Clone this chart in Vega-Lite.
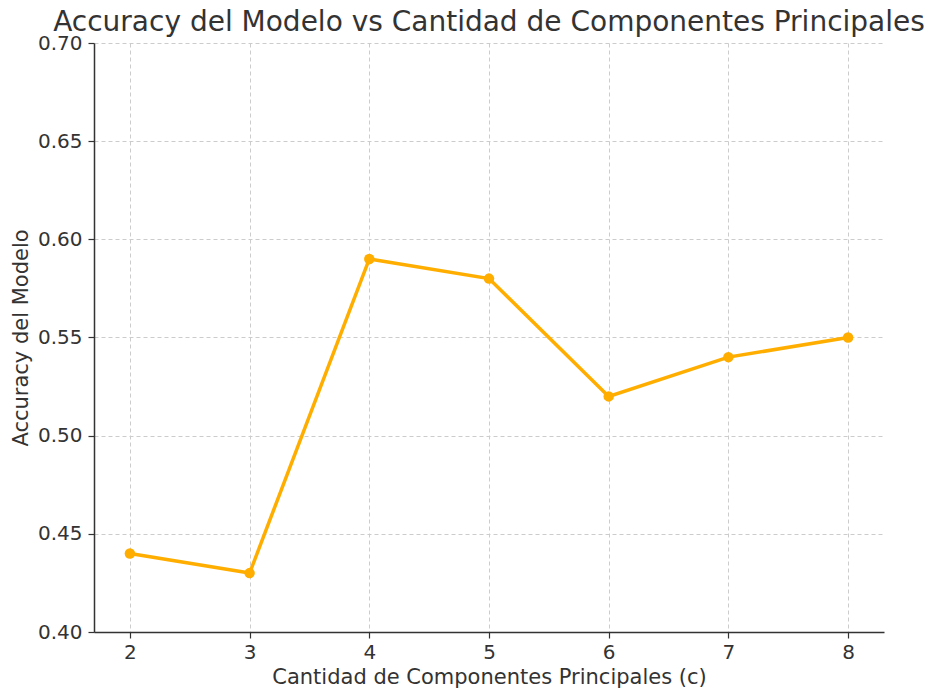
{
  "$schema": "https://vega.github.io/schema/vega-lite/v6.json",
  "width": 790,
  "height": 589,
  "autosize": "none",
  "padding": {"left": 94, "top": 43, "right": 51, "bottom": 56},
  "background": "white",
  "title": {
    "text": "Accuracy del Modelo vs Cantidad de Componentes Principales",
    "font": "DejaVu Sans",
    "fontSize": 28,
    "fontWeight": "normal",
    "color": "#333333",
    "anchor": "middle",
    "offset": -4
  },
  "config": {
    "view": {"stroke": null},
    "axis": {
      "labelFont": "DejaVu Sans",
      "titleFont": "DejaVu Sans",
      "labelFontSize": 20,
      "titleFontSize": 21,
      "titleFontWeight": "normal",
      "labelColor": "#333333",
      "titleColor": "#333333",
      "domainColor": "#333333",
      "tickColor": "#333333",
      "domainWidth": 1.5,
      "tickWidth": 1.2,
      "tickSize": 6,
      "gridColor": "#cccccc",
      "gridDash": [4, 3],
      "gridWidth": 1
    }
  },
  "data": {
    "values": [
      {"c": 2, "acc": 0.44},
      {"c": 3, "acc": 0.43},
      {"c": 4, "acc": 0.59},
      {"c": 5, "acc": 0.58},
      {"c": 6, "acc": 0.52},
      {"c": 7, "acc": 0.54},
      {"c": 8, "acc": 0.55}
    ]
  },
  "mark": {"type": "line", "color": "#FFAE00", "strokeWidth": 3.5, "point": {"filled": true, "size": 110, "color": "#FFAE00"}},
  "encoding": {
    "x": {
      "field": "c",
      "type": "quantitative",
      "scale": {"domain": [1.7, 8.3], "nice": false, "zero": false},
      "axis": {"values": [2, 3, 4, 5, 6, 7, 8], "title": "Cantidad de Componentes Principales (c)", "labelPadding": 4, "titlePadding": 4}
    },
    "y": {
      "field": "acc",
      "type": "quantitative",
      "scale": {"domain": [0.4, 0.7], "nice": false, "zero": false},
      "axis": {"values": [0.4, 0.45, 0.5, 0.55, 0.6, 0.65, 0.7], "format": ".2f", "title": "Accuracy del Modelo", "labelPadding": 6, "titlePadding": 6}
    }
  }
}
